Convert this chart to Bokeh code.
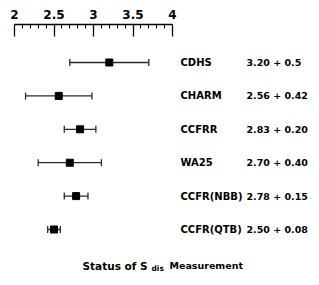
from bokeh.plotting import figure
from bokeh.models import Range1d, LinearAxis, FixedTicker, Whisker, ColumnDataSource, TeeHead
from bokeh.embed import file_html
from bokeh.resources import INLINE
from bokeh.core.properties import value

experiments = ["CDHS", "CHARM", "CCFRR", "WA25", "CCFR(NBB)", "CCFR(QTB)"]
central = [3.20, 2.56, 2.83, 2.70, 2.78, 2.50]
errors = [0.5, 0.42, 0.20, 0.40, 0.15, 0.08]
value_labels = ["3.20 + 0.5", "2.56 + 0.42", "2.83 + 0.20", "2.70 + 0.40", "2.78 + 0.15", "2.50 + 0.08"]
major_ticks = [2, 2.5, 3, 3.5, 4]
minor_ticks = [2.1, 2.2, 2.3, 2.4, 2.6, 2.7, 2.8, 2.9, 3.1, 3.2, 3.3, 3.4, 3.6, 3.7, 3.8, 3.9]

rows = list(range(len(experiments)))
src = ColumnDataSource(dict(
    x=central,
    y=rows,
    lower=[c - e for c, e in zip(central, errors)],
    upper=[c + e for c, e in zip(central, errors)],
    name=experiments,
    val=value_labels,
))

FONT = "DejaVu Sans"
W, H = 312, 280
TOP = 24
px_per_unit = 79.0
x0 = 2 - 14 / px_per_unit
row_px = 33.4
frame_h = H - TOP
p = figure(width=W, height=H, output_backend="svg", toolbar_location=None,
           x_axis_location=None, y_axis_location=None,
           x_range=Range1d(x0, x0 + W / px_per_unit),
           y_range=Range1d((frame_h - 38) / row_px, -38 / row_px),
           min_border_left=0, min_border_right=0, min_border_top=TOP, min_border_bottom=0)
p.outline_line_color = None
p.grid.grid_line_color = None
p.background_fill_color = "white"
p.border_fill_color = "white"

ax = LinearAxis(ticker=FixedTicker(ticks=major_ticks, minor_ticks=minor_ticks), bounds=(2, 4))
ax.axis_line_color = "black"
ax.axis_line_width = 1.3
ax.major_tick_in = 12
ax.major_tick_out = 0
ax.minor_tick_in = 4
ax.minor_tick_out = 0
ax.major_tick_line_width = 1.3
ax.minor_tick_line_width = 1.1
ax.major_tick_line_color = "black"
ax.minor_tick_line_color = "black"
ax.major_label_standoff = 6
ax.major_label_text_font = FONT
ax.major_label_text_font_style = "bold"
ax.major_label_text_font_size = "12px"
ax.major_label_text_color = "black"
p.add_layout(ax, "above")

wh = Whisker(source=src, base="y", lower="lower", upper="upper", dimension="width",
             line_color="#2a2a2a", line_width=1.3,
             upper_head=TeeHead(size=7, line_width=1.3, line_color="#2a2a2a"),
             lower_head=TeeHead(size=7, line_width=1.3, line_color="#2a2a2a"))
p.add_layout(wh)
p.scatter("x", "y", source=src, marker="square", size=7, color="black")

p.text(x=4, y="y", text="name", source=src, x_offset=8, text_baseline="middle",
       text_font=value(FONT), text_font_style="bold", text_font_size="10px", text_color="black")
p.text(x=4, y="y", text="val", source=src, x_offset=74, text_baseline="middle",
       text_font=value(FONT), text_font_style="bold", text_font_size="9.5px", text_color="black")

# title pieces: Status of S_dis Measurement
ty = 6.08
p.text(x=[2], y=[ty], text=["Status of S"], x_offset=68, text_baseline="middle",
       text_font=value(FONT), text_font_style="bold", text_font_size="10.5px", text_color="black")
p.text(x=[2], y=[ty], text=["dis"], x_offset=137, y_offset=3, text_baseline="middle",
       text_font=value(FONT), text_font_style="bold", text_font_size="7.5px", text_color="black")
p.text(x=[2], y=[ty], text=["Measurement"], x_offset=155, text_baseline="middle",
       text_font=value(FONT), text_font_style="bold", text_font_size="9.5px", text_color="black")

open("out.html", "w").write(file_html(p, INLINE))
